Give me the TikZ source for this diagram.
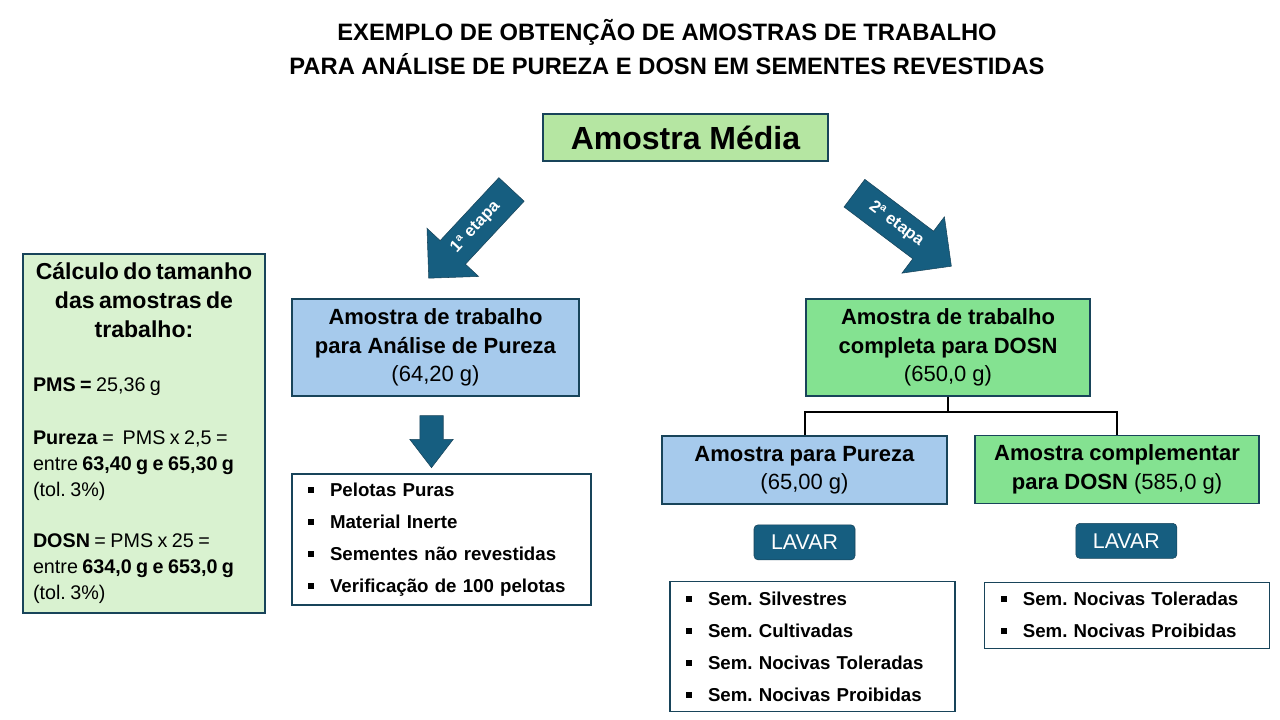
\documentclass[tikz,border=0pt]{standalone}
\usepackage{fontspec}
\setmainfont{Liberation Sans}
\usetikzlibrary{positioning,shapes.arrows}
\definecolor{edgeteal}{RGB}{24,68,90}
\definecolor{stepblue}{RGB}{22,94,128}
\definecolor{mediagreen}{RGB}{181,230,162}
\definecolor{calcgreen}{RGB}{217,242,208}
\definecolor{sampleblue}{RGB}{166,202,236}
\definecolor{dosngreen}{RGB}{132,226,145}
\tikzset{link/.style={draw, line width=1.5pt}}
\newcommand{\sqb}{\makebox[16.5pt][l]{\rule[0.2em]{4.5pt}{4.5pt}}}
\frenchspacing

\begin{document}
\begin{tikzpicture}[x=0.75pt,y=-0.75pt]
\tikzstyle{block} = [rectangle, draw=edgeteal, line width=0.9pt, align=center, inner sep=2pt, font=\fontsize{16.5}{21.4}\selectfont]
\tikzstyle{listbox} = [rectangle, draw=edgeteal, line width=0.9pt, align=left, inner xsep=12pt, font=\bfseries\fontsize{14}{24}\selectfont]
\tikzstyle{etapa} = [single arrow, fill=stepblue, draw=edgeteal, text=white, font=\bfseries\fontsize{12.5}{12.5}\selectfont, minimum height=91pt, single arrow head extend=13.5pt, single arrow tip angle=90, inner ysep=8.5pt, text height=7pt, text depth=1.5pt]
\tikzstyle{lavar} = [rectangle, rounded corners=3pt, fill=stepblue, draw=edgeteal, text=white, font=\fontsize{16}{16}\selectfont, minimum width=75.75pt, minimum height=26.25pt]

\useasboundingbox (0,0) rectangle (1280,720);
\fill [white] (0,0) rectangle (1280,720);

% title
    \node [font=\bfseries\fontsize{17.8}{25.5}\selectfont, align=center] (title) at (667,47) {EXEMPLO DE OBTENÇÃO DE AMOSTRAS DE TRABALHO\\PARA ANÁLISE DE PUREZA E DOSN EM SEMENTES REVESTIDAS};
% blocks
    \node [block, fill=mediagreen, minimum width=213.75pt, minimum height=35.25pt, font=\bfseries\fontsize{24}{24}\selectfont] (media) at (685.5,137.5) {Amostra Média};
    % calculo
    \node [rectangle, draw=edgeteal, line width=0.9pt, fill=calcgreen, minimum width=181.5pt, minimum height=269.25pt, text width=166.5pt, inner xsep=7.5pt] (calc) at (144,433.5) {{\centering\bfseries\fontsize{17.3}{21.75}\selectfont Cálculo do tamanho\\das amostras de\\trabalho:\par}
\raggedright\fontsize{14.8}{19.5}\selectfont
\vspace{21pt}
\textbf{PMS =} 25,36 g\par
\vspace{20pt}
\textbf{Pureza} = \ PMS x 2,5 =\\entre \textbf{63,40 g e 65,30 g}\\(tol. 3\%)\par
\vspace{19pt}
\textbf{DOSN} = PMS x 25 =\\entre \textbf{634,0 g e 653,0 g}\\(tol. 3\%)\par};
    % pureza
    \node [block, fill=sampleblue, minimum width=215.25pt, minimum height=72.75pt] (pureza) at (435.5,347.5) {\textbf{Amostra de trabalho}\\\textbf{para Análise de Pureza}\\(64,20 g)};
    \node [single arrow, fill=stepblue, draw=edgeteal, rotate=-90, minimum height=39pt, inner ysep=8.6pt, inner xsep=0pt, single arrow head extend=7.5pt, single arrow tip angle=75] (down) at (431.5,434) {};
    \node [listbox, minimum width=224.25pt, minimum height=98.25pt, text width=200.25pt] (purezalist) at (441.5,539.5) {\sqb Pelotas Puras\\\sqb Material Inerte\\\sqb Sementes não revestidas\\\sqb Verificação de 100 pelotas};
    % dosn
    \node [block, fill=dosngreen, minimum width=213pt, minimum height=72.75pt] (dosn) at (948,347.5) {\textbf{Amostra de trabalho}\\\textbf{completa para DOSN}\\(650,0 g)};
    \node [block, fill=sampleblue, minimum width=213.75pt, minimum height=51pt] (parapureza) at (804.5,470) {\textbf{Amostra para Pureza}\\(65,00 g)};
    \node [block, fill=dosngreen, minimum width=213pt, minimum height=51pt] (complementar) at (1117,469.5) {\textbf{Amostra complementar}\\\textbf{para DOSN} (585,0 g)};
    \node [lavar, below=15pt of parapureza] (lavar1) {LAVAR};
    \node [lavar, below=14.25pt of complementar, xshift=7pt] (lavar2) {LAVAR};
    \node [listbox, minimum width=213.75pt, minimum height=97.5pt, text width=189.75pt, below=15.75pt of lavar1, xshift=6pt] (seedlist) {\sqb Sem. Silvestres\\\sqb Sem. Cultivadas\\\sqb Sem. Nocivas Toleradas\\\sqb Sem. Nocivas Proibidas};
    \node [listbox, minimum width=213.75pt, minimum height=49.5pt, text width=189.75pt, below=17.25pt of lavar2, xshift=0.75pt] (nocivalist) {\sqb Sem. Nocivas Toleradas\\\sqb Sem. Nocivas Proibidas};
% arrows
    \node [etapa, rotate=47, shape border rotate=180] (etapa1) at (476,227.5) {1ª etapa};
    \node [etapa, rotate=-37] (etapa2) at (896,224.5) {2ª etapa};
    \draw [link] (dosn.south) -- ++(0,15) coordinate (split) -| (parapureza.north);
    \draw [link] (split) -| (complementar.north);
\end{tikzpicture}
\end{document}
